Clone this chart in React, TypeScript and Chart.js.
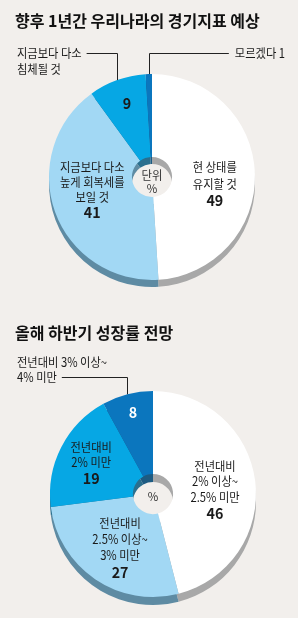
import React, { useEffect, useRef } from "react";
import { Chart, registerables } from "chart.js";
Chart.register(...registerables);

const BG = "#f2efec";
const FONT = "'Noto Sans CJK KR', 'Noto Sans', sans-serif";

// ---------- Chart 1 data ----------
const title1 = "향후 1년간 우리나라의 경기지표 예상";
const labels1 = ["현 상태를 유지할 것", "지금보다 다소 높게 회복세를 보일 것", "지금보다 다소 침체될 것", "모르겠다"];
const values1 = [49, 41, 9, 1];
const lines1 = [["현 상태를", "유지할 것"], ["지금보다 다소", "높게 회복세를", "보일 것"], ["지금보다 다소", "침체될 것"], ["모르겠다"]];
const unit1 = ["단위", "%"];

// ---------- Chart 2 data ----------
const title2 = "올해 하반기 성장률 전망";
const labels2 = ["전년대비 2% 이상~2.5% 미만", "전년대비 2.5% 이상~3% 미만", "전년대비 2% 미만", "전년대비 3% 이상~4% 미만"];
const values2 = [46, 27, 19, 8];
const lines2 = [["전년대비", "2% 이상~", "2.5% 미만"], ["전년대비", "2.5% 이상~", "3% 미만"], ["전년대비", "2% 미만"], ["전년대비 3% 이상~", "4% 미만"]];
const unit2 = ["%"];

const faceColors1 = ["#ffffff", "#a2d8f4", "#06a7e4", "#0b76be"];
const shadeColors1 = ["#a8a8a8", "#5e8ba3", "#2a6f8e", "#1d5b82"];
const faceColors2 = ["#ffffff", "#a2d8f4", "#06a7e4", "#0b76be"];
const shadeColors2 = ["#a8a8a8", "#5e8ba3", "#2a6f8e", "#1d5b82"];

type Inner = { i: number; lines: string[]; fx: number; fy: number; lh: number; color?: string };
type Outer = { i: number; lines: string[]; x: number; y: number; lh: number; side: "left" | "right"; leaderLine: number };

function drawText(ctx: CanvasRenderingContext2D, s: string, x: number, y: number, font: string, color: string, align: CanvasTextAlign, sx = 0.9) {
  ctx.save();
  ctx.font = font;
  ctx.fillStyle = color;
  ctx.textBaseline = "middle";
  ctx.textAlign = align;
  ctx.translate(x, y);
  ctx.scale(sx, 1);
  ctx.fillText(s, 0, 0);
  ctx.restore();
}
function textW(ctx: CanvasRenderingContext2D, s: string, font: string, sx = 0.9) {
  ctx.save();
  ctx.font = font;
  const w = ctx.measureText(s).width * sx;
  ctx.restore();
  return w;
}

function makePlugin(cfg: { depth: number; shades: string[]; values: number[]; inner: Inner[]; outer: Outer[]; unit: string[]; unitDy: number[] }) {
  const LF = `12.5px ${FONT}`;
  const NF = `bold 15px ${FONT}`;
  return {
    id: "pie3d",
    beforeDatasetsDraw(chart: any) {
      const meta = chart.getDatasetMeta(0);
      const ctx = chart.ctx as CanvasRenderingContext2D;
      ctx.save();
      ctx.translate(0, cfg.depth);
      meta.data.forEach((arc: any, i: number) => {
        const p = arc.getProps(["x", "y", "startAngle", "endAngle", "innerRadius", "outerRadius"], true);
        ctx.beginPath();
        ctx.arc(p.x, p.y, p.outerRadius, p.startAngle, p.endAngle);
        ctx.arc(p.x, p.y, p.innerRadius, p.endAngle, p.startAngle, true);
        ctx.closePath();
        ctx.fillStyle = cfg.shades[i];
        ctx.fill();
      });
      ctx.restore();
    },
    afterDatasetsDraw(chart: any) {
      const meta = chart.getDatasetMeta(0);
      const ctx = chart.ctx as CanvasRenderingContext2D;
      const a0 = meta.data[0].getProps(["x", "y", "outerRadius"], true);
      const cx = a0.x, cy = a0.y, R = a0.outerRadius;
      // inner labels
      cfg.inner.forEach((lb) => {
        const all = [...lb.lines, String(cfg.values[lb.i])];
        const n = all.length;
        const x = cx + lb.fx * R;
        const y0 = cy + lb.fy * R;
        all.forEach((s, k) => {
          const isNum = k === n - 1;
          drawText(ctx, s, x, y0 + (k - (n - 1) / 2) * lb.lh, isNum ? NF : LF, lb.color || "#1a1a1a", "center", isNum ? 0.95 : 0.9);
        });
      });
      // outer labels with leaders
      cfg.outer.forEach((lb) => {
        const arc = meta.data[lb.i].getProps(["startAngle", "endAngle"], true);
        const mid = (arc.startAngle + arc.endAngle) / 2;
        const ex = cx + Math.cos(mid) * R;
        const ey = cy + Math.sin(mid) * R;
        const ly = lb.y + lb.leaderLine * lb.lh;
        let lineW = 0;
        lb.lines.forEach((s, k) => {
          drawText(ctx, s, lb.x, lb.y + k * lb.lh, LF, "#1a1a1a", lb.side === "left" ? "left" : "right");
          if (k === lb.leaderLine) lineW = textW(ctx, s, LF);
        });
        ctx.save();
        ctx.strokeStyle = "#222";
        ctx.lineWidth = 1;
        ctx.beginPath();
        const sx = lb.side === "left" ? lb.x + lineW + 5 : lb.x - lineW - 6;
        ctx.moveTo(sx, Math.round(ly) + 0.5);
        ctx.lineTo(Math.round(ex) + 0.5, Math.round(ly) + 0.5);
        ctx.lineTo(Math.round(ex) + 0.5, ey);
        ctx.stroke();
        ctx.restore();
      });
      // unit text in hole
      cfg.unit.forEach((s, k) => {
        drawText(ctx, s, cx, cy + cfg.unitDy[k], `12px ${FONT}`, "#333", "center", 0.95);
      });
    },
  };
}

function PieChart(props: {
  height: number; title: string; labels: string[]; values: number[]; faces: string[]; plugin: any;
  titlePad: { top: number; bottom: number }; pad: { left: number; right: number; bottom: number };
}) {
  const ref = useRef<HTMLCanvasElement>(null);
  useEffect(() => {
    const chart = new Chart(ref.current!, {
      type: "doughnut",
      data: {
        labels: props.labels,
        datasets: [{ data: props.values, backgroundColor: props.faces, borderWidth: 0, hoverOffset: 0, offset: 0 }],
      },
      options: {
        responsive: false,
        animation: false,
        events: [],
        cutout: "19.5%",
        layout: { padding: { left: props.pad.left, right: props.pad.right, top: 0, bottom: props.pad.bottom } },
        plugins: {
          legend: { display: false },
          tooltip: { enabled: false },
          title: {
            display: true,
            text: props.title,
            align: "start",
            color: "#111",
            font: { family: FONT, size: 16, weight: "bold", lineHeight: 1.2 },
            padding: props.titlePad,
          },
        },
      },
      plugins: [props.plugin],
    });
    return () => chart.destroy();
  }, []);
  return <canvas ref={ref} width={298} height={props.height} style={{ display: "block", width: 298, height: props.height }} />;
}

export default function App() {
  useEffect(() => {
    document.body.style.margin = "0";
    document.body.style.background = BG;
  }, []);
  const p1 = makePlugin({
    depth: 7,
    shades: shadeColors1,
    values: values1,
    inner: [
      { i: 0, lines: lines1[0], fx: 0.61, fy: 0.068, lh: 16.5 },
      { i: 1, lines: lines1[1], fx: -0.58, fy: 0.12, lh: 15 },
      { i: 2, lines: [], fx: -0.243, fy: -0.718, lh: 15 },
    ],
    outer: [
      { i: 2, lines: lines1[2], x: 17, y: 53, lh: 16, side: "left", leaderLine: 0 },
      { i: 3, lines: [lines1[3][0] + " " + values1[3]], x: 285, y: 53, lh: 16, side: "right", leaderLine: 0 },
    ],
    unit: unit1,
    unitDy: [-2, 11],
  });
  const p2 = makePlugin({
    depth: 8,
    shades: shadeColors2,
    values: values2,
    inner: [
      { i: 0, lines: lines2[0], fx: 0.602, fy: -0.044, lh: 15.7 },
      { i: 1, lines: lines2[1], fx: -0.32, fy: 0.52, lh: 16.3 },
      { i: 2, lines: lines2[2], fx: -0.6, fy: -0.306, lh: 15.5 },
      { i: 3, lines: [], fx: -0.194, fy: -0.796, lh: 15, color: "#ffffff" },
    ],
    outer: [{ i: 3, lines: lines2[3], x: 17, y: 52, lh: 15, side: "left", leaderLine: 1 }],
    unit: unit2,
    unitDy: [2],
  });
  return (
    <div style={{ width: 298, height: 618, background: BG }}>
      <PieChart height={310} title={title1} labels={labels1} values={values1} faces={faceColors1} plugin={p1}
        titlePad={{ top: 11.4, bottom: 43.4 }} pad={{ left: 15, right: 9, bottom: 30 }} />
      <PieChart height={308} title={title2} labels={labels2} values={values2} faces={faceColors2} plugin={p2}
        titlePad={{ top: 13.4, bottom: 48.4 }} pad={{ left: 15, right: 7, bottom: 21 }} />
    </div>
  );
}
